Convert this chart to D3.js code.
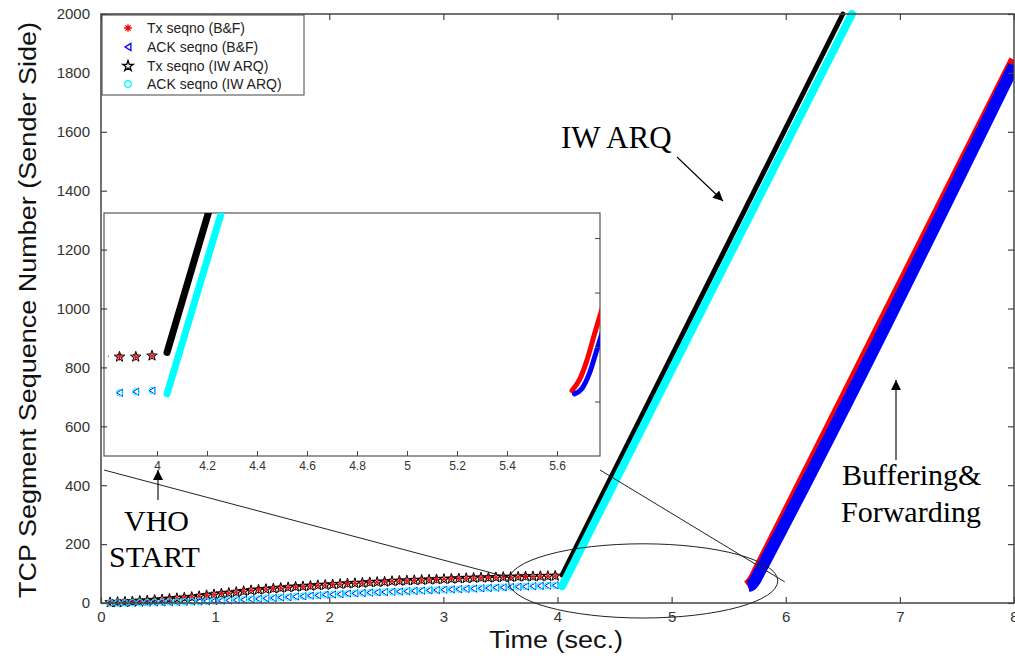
<!DOCTYPE html>
<html><head><meta charset="utf-8">
<script src="https://cdn.jsdelivr.net/npm/d3@7"></script>
<style>
body{margin:0;background:#fff;}
svg{display:block;}
</style></head>
<body>
<svg id="chart" width="1015" height="659"></svg>
<script>
// ---------------- data ----------------
const xTicks = [0,1,2,3,4,5,6,7,8];
const yTicks = [0,200,400,600,800,1000,1200,1400,1600,1800,2000];
const insetXTicks = [4,4.2,4.4,4.6,4.8,5,5.2,5.4,5.6];
const insetYTicks = [50,100,150,200];

// before the handover (both schemes behave the same)
const tPre = [0.08,0.145,0.21,0.275,0.34,0.405,0.47,0.535,0.60,0.665,
  0.73,0.795,0.86,0.925,0.99,1.055,1.12,1.185,1.25,1.315,
  1.38,1.445,1.51,1.575,1.64,1.705,1.77,1.835,1.90,1.965,
  2.03,2.095,2.16,2.225,2.29,2.355,2.42,2.485,2.55,2.615,
  2.68,2.745,2.81,2.875,2.94,3.005,3.07,3.135,3.20,3.265,
  3.33,3.395,3.46,3.525,3.59,3.655,3.72,3.785,3.85,3.915,3.98];
const txPre = [2,3,4,5,7,8,10,12,14,16,
  18,20,23,26,29,32,34,37,40,43,
  45,47,49,51,53,55,56,58,60,61,
  63,64,66,67,68,70,71,72,74,75,
  76,77,78,79,80,81,82,83,84,85,
  86,86,87,88,88,89,90,90,91,91,92];
const ackPre = [0,0,0,1,1,1,2,2,3,3,
  4,5,5,6,7,8,9,10,11,13,
  14,16,17,19,20,22,23,25,26,28,
  29,30,32,33,34,35,36,37,38,39,
  40,41,42,43,44,45,46,47,48,49,
  50,51,52,53,54,55,56,57,58,59,60];

// after the handover
const tTxIW = [4.04, 6.50];
const vTxIW = [95, 2000];
const tAckIW = [4.04, 6.58];
const vAckIW = [57, 2000];
const tTxBF = [5.66, 5.69, 5.72, 5.75, 5.78, 8.0];
const vTxBF = [60, 70, 88, 112, 135, 1845];
const tAckBF = [5.67, 5.70, 5.73, 5.76, 5.79, 8.0];
const vAckBF = [57, 62, 76, 98, 120, 1825];

const legendLabels = ["Tx seqno (B&F)","ACK seqno (B&F)","Tx seqno (IW ARQ)","ACK seqno (IW ARQ)"];
const colors = {txBF:"#ff0000", ackBF:"#0000ff", txIW:"#000000", ackIW:"#00ffff"};

// ---------------- layout ----------------
const svg = d3.select("#chart");
const W = 1015, H = 659;
const x = d3.scaleLinear([0,8],[101,1014]);
const y = d3.scaleLinear([0,2000],[603,14]);
const xi = d3.scaleLinear([4,5.6],[157,557]);
const yi = d3.scaleLinear([0,223],[456,213]);
const insetBox = {x0:104, x1:600, y0:213, y1:456};

svg.append("rect").attr("width",W).attr("height",H).attr("fill","#fff");

const defs = svg.append("defs");
defs.append("clipPath").attr("id","mainClip").append("rect")
  .attr("x",x(0)).attr("y",0).attr("width",x(8)-x(0)).attr("height",y(0)+10);
defs.append("clipPath").attr("id","insetClip").append("rect")
  .attr("x",insetBox.x0+4).attr("y",insetBox.y0)
  .attr("width",insetBox.x1-insetBox.x0-4).attr("height",insetBox.y1-insetBox.y0);
defs.append("marker").attr("id","arrow").attr("viewBox","0 0 10 10")
  .attr("refX",10).attr("refY",5).attr("markerWidth",14).attr("markerHeight",10)
  .attr("markerUnits","userSpaceOnUse").attr("orient","auto")
  .append("path").attr("d","M0,0 L10,5 L0,10 Z").attr("fill","#000");

// marker shapes
function asterisk(r){return `M${-r},0L${r},0M0,${-r}L0,${r}M${-r*0.7},${-r*0.7}L${r*0.7},${r*0.7}M${-r*0.7},${r*0.7}L${r*0.7},${-r*0.7}`;}
function triLeft(r){return `M${r*0.8},${-r}L${-r*0.8},0L${r*0.8},${r}Z`;}
const starPath = d3.symbol(d3.symbolStar, 34)();
const markerDefs = {
  txBF: {d: asterisk(3.8), fill:"none", stroke:colors.txBF},
  ackBF:{d: triLeft(3.6), fill:"none", stroke:colors.ackBF},
  txIW: {d: starPath, fill:"none", stroke:colors.txIW},
  ackIW:{d: d3.symbol(d3.symbolCircle, 34)(), fill:"none", stroke:colors.ackIW}
};

function drawMarkers(g, xs, ts, vs, key, ys){
  const m = markerDefs[key];
  g.selectAll(null).data(ts.map((t,i)=>[t,vs[i]])).join("path")
    .attr("d", m.d).attr("fill", m.fill).attr("stroke", m.stroke).attr("stroke-width",1)
    .attr("transform", d=>`translate(${xs(d[0])},${ys(d[1])})`);
}
function drawBand(g, xs, ys, ts, vs, color, w, cap){
  const line = d3.line().x(d=>xs(d[0])).y(d=>ys(d[1])).curve(d3.curveMonotoneX);
  g.append("path").datum(ts.map((t,i)=>[t,vs[i]]))
    .attr("d", line).attr("fill","none").attr("stroke",color)
    .attr("stroke-width",w).attr("stroke-linecap",cap).attr("stroke-linejoin","round");
}

// ---------------- main data ----------------
const main = svg.append("g").attr("clip-path","url(#mainClip)");
drawMarkers(main, x, tPre, txPre, "txBF", y);
drawMarkers(main, x, tPre, ackPre, "ackBF", y);
drawMarkers(main, x, tPre, txPre, "txIW", y);
drawMarkers(main, x, tPre, ackPre, "ackIW", y);
drawBand(main, x, y, tTxBF, vTxBF, colors.txBF, 10, "butt");
drawBand(main, x, y, tAckBF, vAckBF, colors.ackBF, 12, "butt");
drawBand(main, x, y, tTxIW, vTxIW, colors.txIW, 5, "round");
drawBand(svg, x, y, tAckIW, vAckIW, colors.ackIW, 8, "round");

// ---------------- inset ----------------
const inset = svg.append("g");
inset.append("rect").attr("x",insetBox.x0).attr("y",insetBox.y0)
  .attr("width",insetBox.x1-insetBox.x0).attr("height",insetBox.y1-insetBox.y0)
  .attr("fill","#fff").attr("stroke","#555").attr("stroke-width",1.2);
const inData = inset.append("g").attr("clip-path","url(#insetClip)");
drawMarkers(inData, xi, tPre, txPre, "txBF", yi);
drawMarkers(inData, xi, tPre, ackPre, "ackBF", yi);
drawMarkers(inData, xi, tPre, txPre, "txIW", yi);
drawMarkers(inData, xi, tPre, ackPre, "ackIW", yi);
drawBand(inData, xi, yi, tTxBF, vTxBF, colors.txBF, 5, "round");
drawBand(inData, xi, yi, tAckBF, vAckBF, colors.ackBF, 5, "round");
drawBand(inData, xi, yi, tTxIW, vTxIW, colors.txIW, 7, "round");
drawBand(inData, xi, yi, tAckIW, vAckIW, colors.ackIW, 7, "round");

const ixAxis = inset.append("g").attr("transform",`translate(0,${insetBox.y1})`)
  .call(d3.axisBottom(xi).tickValues(insetXTicks).tickSizeInner(-5).tickSizeOuter(0).tickPadding(5)
    .tickFormat(d=>String(+d.toFixed(1))));
ixAxis.select(".domain").remove();
ixAxis.selectAll("line").attr("stroke","#444");
ixAxis.selectAll("text").attr("font-family","Liberation Sans, Arial, sans-serif")
  .attr("font-size",12).attr("fill","#333");
const iyAxis = inset.append("g").attr("transform",`translate(${insetBox.x1},0)`)
  .call(d3.axisLeft(yi).tickValues(insetYTicks).tickSizeInner(5).tickSizeOuter(0).tickFormat(""));
iyAxis.select(".domain").remove();
iyAxis.selectAll("line").attr("stroke","#444");

// ---------------- main axes ----------------
const axColor = "#444";
svg.append("rect").attr("x",x(0)).attr("y",y(2000)).attr("width",x(8)-x(0)).attr("height",y(0)-y(2000))
  .attr("fill","none").attr("stroke",axColor).attr("stroke-width",1.5);
function styleAxis(g, fs){
  g.select(".domain").remove();
  g.selectAll("line").attr("stroke",axColor).attr("stroke-width",1.2);
  g.selectAll("text").attr("font-family","Liberation Sans, Arial, sans-serif")
    .attr("font-size",fs).attr("fill","#333");
}
const xAxis = svg.append("g").attr("transform",`translate(0,${y(0)})`)
  .call(d3.axisBottom(x).tickValues(xTicks).tickSizeInner(-6).tickSizeOuter(0).tickPadding(8).tickFormat(d3.format("d")));
styleAxis(xAxis, 15);
const yAxis = svg.append("g").attr("transform",`translate(${x(0)},0)`)
  .call(d3.axisLeft(y).tickValues(yTicks).tickSizeInner(-6).tickSizeOuter(0).tickPadding(11).tickFormat(d3.format("d")));
styleAxis(yAxis, 15);
const xTop = svg.append("g").attr("transform",`translate(0,${y(2000)})`)
  .call(d3.axisTop(x).tickValues(xTicks).tickSizeInner(-6).tickSizeOuter(0).tickFormat(""));
styleAxis(xTop, 15);
const yRight = svg.append("g").attr("transform",`translate(${x(8)},0)`)
  .call(d3.axisRight(y).tickValues(yTicks).tickSizeInner(-6).tickSizeOuter(0).tickFormat(""));
styleAxis(yRight, 15);

// axis titles
svg.append("text").attr("x",556).attr("y",648).attr("text-anchor","middle")
  .attr("font-family","Liberation Sans, Arial, sans-serif").attr("font-size",23)
  .attr("textLength",134).attr("lengthAdjust","spacingAndGlyphs").attr("fill","#111")
  .text("Time (sec.)");
svg.append("text").attr("transform","translate(36,310) rotate(-90)").attr("text-anchor","middle")
  .attr("font-family","Liberation Sans, Arial, sans-serif").attr("font-size",23)
  .attr("textLength",576).attr("lengthAdjust","spacingAndGlyphs").attr("fill","#111")
  .text("TCP Segment Sequence Number (Sender Side)");

// ---------------- zoom annotation ----------------
const ell = {t:4.75, v:75, rt:1.18, rv:126};
svg.append("ellipse").attr("cx",x(ell.t)).attr("cy",y(ell.v))
  .attr("rx",x(ell.t+ell.rt)-x(ell.t)).attr("ry",y(0)-y(ell.rv))
  .attr("fill","none").attr("stroke","#222").attr("stroke-width",1);
svg.append("line").attr("x1",insetBox.x0).attr("y1",insetBox.y1+14)
  .attr("x2",x(ell.t-ell.rt)+2).attr("y2",y(ell.v)-3).attr("stroke","#222").attr("stroke-width",1);
svg.append("line").attr("x1",insetBox.x1).attr("y1",insetBox.y1+14)
  .attr("x2",x(ell.t+ell.rt)+7).attr("y2",y(ell.v)+1).attr("stroke","#222").attr("stroke-width",1);

// ---------------- text annotations ----------------
const serif = "Liberation Serif, Times New Roman, serif";
function label(txt, xx, yy, fs){
  svg.append("text").attr("x",xx).attr("y",yy).attr("font-family",serif)
    .attr("font-size",fs||30).attr("fill","#000").text(txt);
}
label("IW ARQ", 561, 148, 31);
label("Buffering&", 842, 485);
label("Forwarding", 841, 522);
label("VHO", 124, 531);
label("START", 109, 567);
function arrow(x1,y1,x2,y2){
  svg.append("line").attr("x1",x1).attr("y1",y1).attr("x2",x2).attr("y2",y2)
    .attr("stroke","#000").attr("stroke-width",1.1).attr("marker-end","url(#arrow)");
}
arrow(677,157,723,201);
arrow(896,460,896,380);
arrow(158,500,158,470);

// ---------------- legend ----------------
const lg = svg.append("g");
lg.append("rect").attr("x",102).attr("y",15).attr("width",202).attr("height",80)
  .attr("fill","#fff").attr("stroke","#444").attr("stroke-width",1);
const keys = ["txBF","ackBF","txIW","ackIW"];
const lgY = [28,47,66,84];
keys.forEach((k,i)=>{
  const m = markerDefs[k];
  lg.append("path").attr("d",m.d).attr("fill",m.fill).attr("stroke",m.stroke)
    .attr("stroke-width",1.3).attr("transform",`translate(128,${lgY[i]})`);
  lg.append("text").attr("x",147).attr("y",lgY[i]+5)
    .attr("font-family","Liberation Sans, Arial, sans-serif").attr("font-size",14)
    .attr("fill","#222").text(legendLabels[i]);
});
</script>
</body></html>
